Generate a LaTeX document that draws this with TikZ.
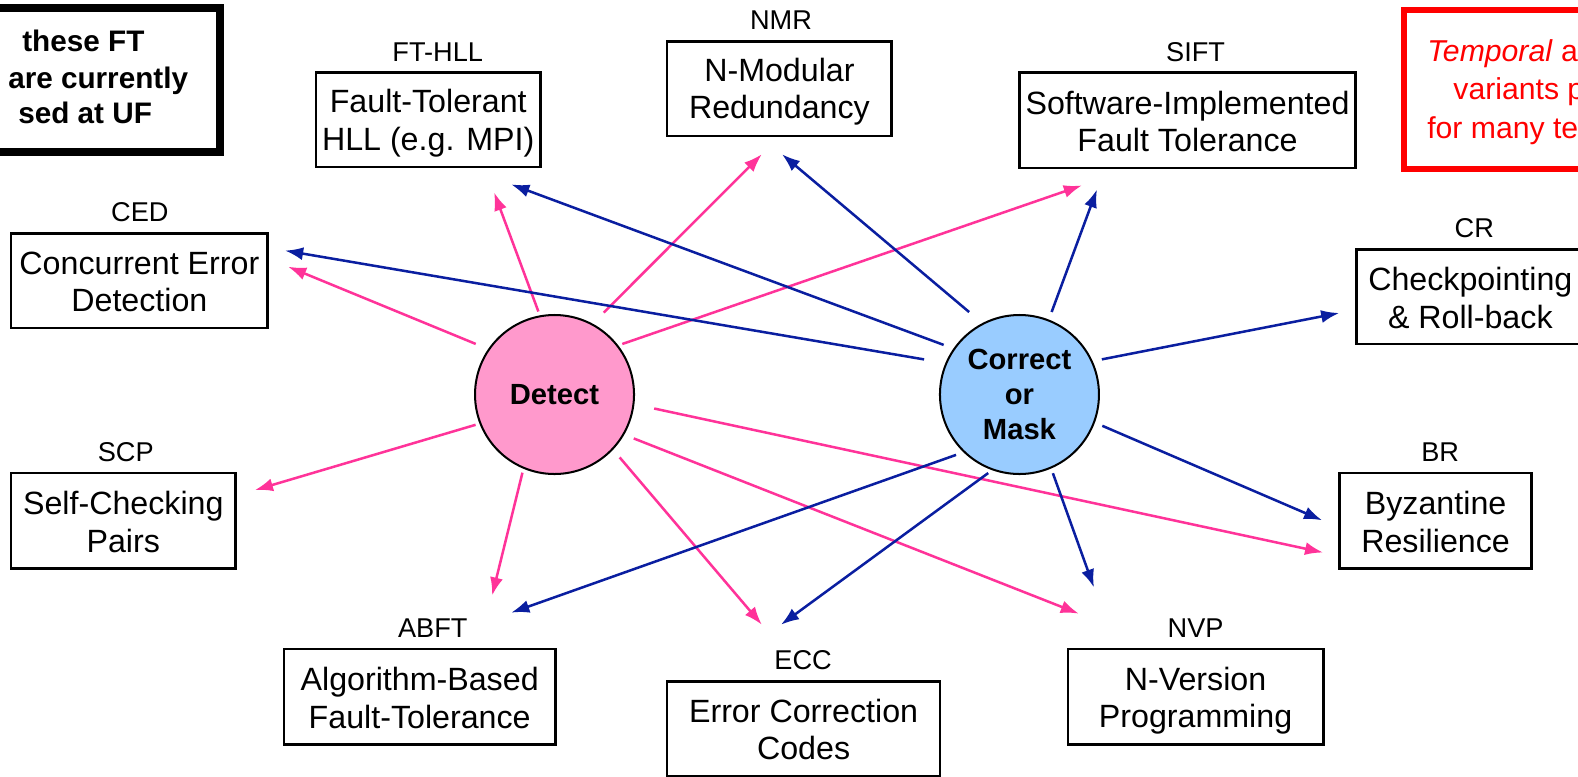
\documentclass[tikz,border=0pt]{standalone}
\usepackage{fontspec}
\setmainfont{Liberation Sans}
\usetikzlibrary{arrows.meta}

\definecolor{detpink}{HTML}{FF99CC}
\definecolor{maskblue}{HTML}{99CCFF}
\definecolor{pinkline}{HTML}{FF3399}
\definecolor{blueline}{HTML}{0A1EA0}
\definecolor{notered}{HTML}{FF0000}

% struts for the two-line boxes
\newcommand{\topstrut}{\rule{0pt}{30pt}}
\newcommand{\botstrut}{\rule[-5pt]{0pt}{5pt}}

\tikzset{
  tech/.style={draw, line width=2.5pt, align=center, inner sep=0pt,
    font=\fontsize{32}{37}\selectfont},
  abbr/.style={inner sep=0pt, font=\fontsize{27}{30}\selectfont},
  hub/.style={circle, draw, line width=2pt, minimum size=158pt, inner sep=0pt,
    align=center, font=\bfseries\fontsize{29}{35}\selectfont},
  note/.style={inner sep=0pt, anchor=base west, font=\bfseries\fontsize{29.5}{35}\selectfont},
  rednote/.style={inner sep=0pt, anchor=base west, text=notered,
    font=\fontsize{30}{37}\selectfont},
  pk/.style={pinkline, line width=2.5pt, -{Latex[length=18pt,width=13pt]}},
  bl/.style={blueline, line width=2.5pt, -{Latex[length=18pt,width=13pt]}},
}

\begin{document}
\begin{tikzpicture}[x=1pt,y=1pt]
  \useasboundingbox (0,0) rectangle (1568,-772);

  % notes at the edges (cut off)
  \draw[line width=8pt] (-40,-8) rectangle (219,-151);
  \node[note] (uf1) at (22,-51) {these FT};
  \node[note] (uf2) at (8,-88) {are currently};
  \node[note] (uf3) at (18,-123) {sed at UF};
  \draw[notered, line width=6pt] (1395,-10) rectangle (1620,-168);
  \node[rednote] (tmp1) at (1418,-61) {\textit{Temporal} a};
  \node[rednote] (tmp2) at (1444,-99) {variants p};
  \node[rednote] (tmp3) at (1418,-138) {for many te};

  % techniques
  \node[tech, minimum width=223pt, minimum height=94pt] (ft) at (425.5,-119) {\topstrut Fault-Tolerant\\HLL (e.g. MPI)\botstrut};
  \node[tech, minimum width=223pt, minimum height=94pt] (nmr) at (774.5,-88) {\topstrut N-Modular\\Redundancy\botstrut};
  \node[tech, minimum width=334pt, minimum height=95pt] (sift) at (1180,-119.5) {\topstrut Software-Implemented\\Fault Tolerance\botstrut};
  \node[tech, minimum width=255pt, minimum height=94pt] (ced) at (138.5,-279) {\topstrut Concurrent Error\\Detection\botstrut};
  \node[tech, minimum width=226pt, minimum height=94pt] (cr) at (1461,-295) {\topstrut Checkpointing\\\& Roll-back\botstrut};
  \node[tech, minimum width=223pt, minimum height=95pt] (scp) at (122.5,-517.5) {\topstrut Self-Checking\\Pairs\botstrut};
  \node[tech, minimum width=191pt, minimum height=95pt] (br) at (1426.5,-517.5) {\topstrut Byzantine\\Resilience\botstrut};
  \node[tech, minimum width=270pt, minimum height=95pt] (abft) at (417,-692.5) {\topstrut Algorithm-Based\\Fault-Tolerance\botstrut};
  \node[tech, minimum width=271pt, minimum height=94pt] (ecc) at (798.5,-724) {\topstrut Error Correction\\Codes\botstrut};
  \node[tech, minimum width=254pt, minimum height=95pt] (nvp) at (1188,-692.5) {\topstrut N-Version\\Programming\botstrut};

  \node[abbr] (ft-l) at (435,-52) {FT-HLL};
  \node[abbr] (nmr-l) at (776,-20) {NMR};
  \node[abbr] (sift-l) at (1188,-52) {SIFT};
  \node[abbr] (ced-l) at (139,-211) {CED};
  \node[abbr] (cr-l) at (1465,-227) {CR};
  \node[abbr] (scp-l) at (125,-449) {SCP};
  \node[abbr] (br-l) at (1431,-449) {BR};
  \node[abbr] (abft-l) at (430,-624) {ABFT};
  \node[abbr] (ecc-l) at (798,-656) {ECC};
  \node[abbr] (nvp-l) at (1188,-624) {NVP};

  % the two hubs
  \node[hub, fill=detpink] (det) at (551,-392) {Detect};
  \node[hub, fill=maskblue] (cor) at (1013,-392) {Correct\\or\\Mask};

  % detect
  \draw[pk] ([shift={(147.3:93)}]det.center) -- ([shift={(19,14)}]ced.east);
  \draw[pk] ([shift={(101:84)}]det.center) -- ([shift={(65.5,-24)}]ft.south);
  \draw[pk] ([shift={(59:95)}]det.center) -- ([shift={(-17.5,-17)}]nmr.south);
  \draw[pk] ([shift={(36.7:84)}]det.center) -- ([shift={(-105,-16)}]sift.south);
  \draw[pk] ([shift={(201:84)}]det.center) -- ([shift={(18,30.5)}]scp.east);
  \draw[pk] ([shift={(247.7:84)}]det.center) -- ([shift={(72,52)}]abft.north);
  \draw[pk] ([shift={(316:90)}]det.center) -- ([shift={(-41.5,55)}]ecc.north);
  \draw[pk] ([shift={(331:90)}]det.center) -- ([shift={(-116,34)}]nvp.north);
  \draw[pk] ([shift={(352:100)}]det.center) -- ([shift={(-15,-31.5)}]br.west);

  % correct or mask
  \draw[bl] ([shift={(159.8:101)}]cor.center) -- ([shift={(16,30)}]ced.east);
  \draw[bl] ([shift={(146.8:90)}]cor.center) -- ([shift={(82.5,-16)}]ft.south);
  \draw[bl] ([shift={(121.4:96)}]cor.center) -- ([shift={(2.5,-17)}]nmr.south);
  \draw[bl] ([shift={(68.7:88)}]cor.center) -- ([shift={(-90,-20)}]sift.south);
  \draw[bl] ([shift={(23.1:89)}]cor.center) -- ([shift={(-16,-16)}]cr.west);
  \draw[bl] ([shift={(339.3:88)}]cor.center) -- ([shift={(-16,0.5)}]br.west);
  \draw[bl] ([shift={(293:85)}]cor.center) -- ([shift={(-101,60)}]nvp.north);
  \draw[bl] ([shift={(248.3:84)}]cor.center) -- ([shift={(-22.5,55)}]ecc.north);
  \draw[bl] ([shift={(223.6:87)}]cor.center) -- ([shift={(91,35)}]abft.north);
\end{tikzpicture}
\end{document}
